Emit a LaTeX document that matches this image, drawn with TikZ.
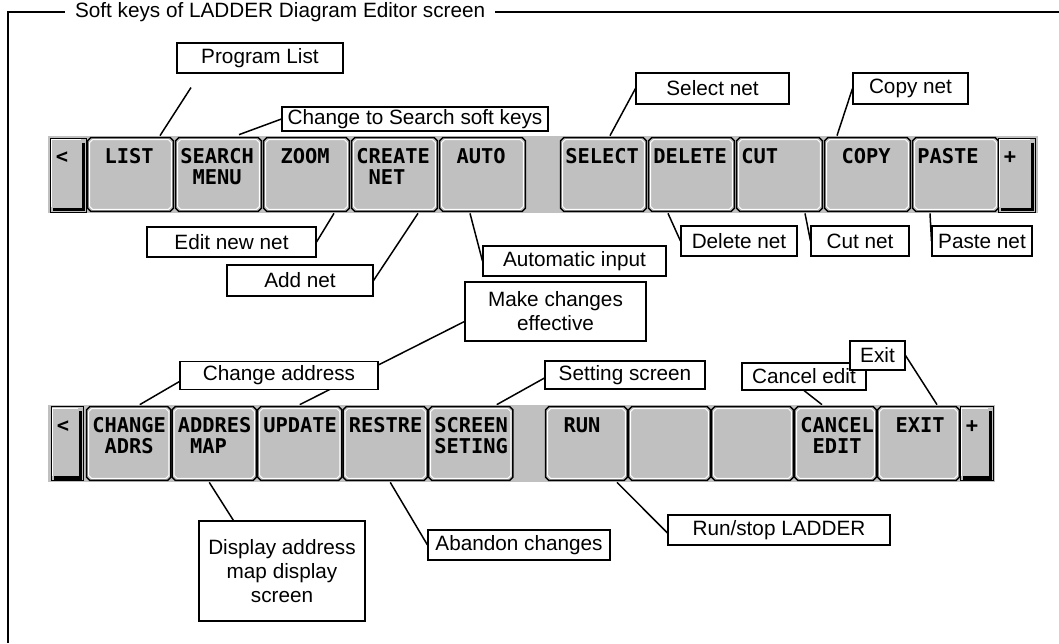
\documentclass[tikz,border=0pt]{standalone}
\usepackage{fontspec}
\setmainfont{Liberation Sans}
\newfontfamily\keyfont{DejaVu Sans Mono}
\usetikzlibrary{calc,backgrounds}
\definecolor{keygray}{RGB}{192,192,192}
\newcommand\pxu{0.02cm}
\newcommand\kp{\hphantom{M}}
\newcommand\chamf[2]{($(#1.north west)+(#2+3,#2)$) -- ($(#1.north east)+(-#2-3,#2)$) -- ($(#1.north east)+(-#2,#2+3)$) -- ($(#1.south east)+(-#2,-#2-3)$) -- ($(#1.south east)+(-#2-3,-#2)$) -- ($(#1.south west)+(#2+3,-#2)$) -- ($(#1.south west)+(#2,-#2-3)$) -- ($(#1.north west)+(#2,#2+3)$) -- cycle}

\begin{document}
\begin{tikzpicture}[x=0.02cm,y=-0.02cm,
  keybox/.style={rectangle,inner sep=0,minimum height=73*\pxu},
  keyedge/.style={draw=black,fill=keygray,line width=0.8pt},
  keyhi/.style={draw=white,line width=0.55pt},
  keytext/.style={anchor=base west,inner sep=0,font=\keyfont\bfseries\fontsize{11.6}{12}\selectfont},
  sidekey/.style={rectangle,draw=black,fill=keygray,line width=0.5pt,inner sep=0},
  notebox/.style={draw,fill=white,line width=0.6pt,inner sep=0,align=center,font=\fontsize{11.8}{13.6}\selectfont},
  lead/.style={line width=0.85pt},
  frame/.style={line width=0.85pt}]
\useasboundingbox (0,0) rectangle (1059,643);
\draw[frame] (1059,12) -| (8,643);
\node[fill=white,inner sep=0,inner xsep=5.5pt,minimum height=16pt,anchor=west,font=\fontsize{11.8}{14}\selectfont] (title) at (65,12) {Soft keys of LADDER Diagram Editor screen};

\fill[keygray] (48,136) rectangle (1038,213);
\fill[keygray] (48,405) rectangle (995,482);

\foreach \n/\x/\a/\b in {LIST/88/\kp LIST/{},SEARCH/176/SEARCH/\kp MENU,ZOOM/264/\kp ZOOM/{},CREATE/352/CREATE/\kp NET,AUTO/440/\kp AUTO/{},
  SELECT/561/SELECT/{},DELETE/649/DELETE/{},CUT/737/CUT/{},COPY/825/\kp COPY/{},PASTE/913/PASTE/{}}{
  \node[keybox,minimum width=85*\pxu] (k\n) at (\x+42.5,174.5) {};
  \draw[keyedge] \chamf{k\n}{0};
  \draw[keyhi] \chamf{k\n}{2};
  \node[keytext] (t\n) at (\x+4,163) {\a};
  \node[keytext] (u\n) at (\x+4,184) {\b};
}
\foreach \n/\x/\w/\a/\b in {CHANGE/87/83.5/CHANGE/\kp ADRS,ADDRES/172.5/83.5/ADDRES/\kp MAP,UPDATE/258/83.5/UPDATE/{},RESTRE/343.5/83.5/RESTRE/{},SCREEN/429/83.5/SCREEN/SETING,
  RUN/546/81/\kp RUN/{},BLANKA/629/81/{}/{},BLANKB/712/81/{}/{},CANCEL/795/81/CANCEL/\kp EDIT,EXIT/878/81/\kp EXIT/{}}{
  \node[keybox,minimum width=\w*\pxu] (k\n) at (\x+\w/2,443.5) {};
  \draw[keyedge] \chamf{k\n}{0};
  \draw[keyhi] \chamf{k\n}{2};
  \node[keytext] (t\n) at (\x+5,432) {\a};
  \node[keytext] (u\n) at (\x+5,453) {\b};
}

\foreach \n/\x/\y/\w/\s in {LT/68/175/36/<,RT/1016.5/175/37/+,LB/67/443.5/32/<,RB/976.5/443.5/33/+}{
  \node[sidekey,minimum width=\w*\pxu,minimum height=74*\pxu] (s\n) at (\x,\y) {};
  \draw[white,line width=0.55pt] ($(s\n.south west)+(2,-5)$) |- ($(s\n.north east)+(-5,2)$);
  \draw[line width=2.2pt] ($(s\n.north east)+(-3,5)$) |- ($(s\n.south west)+(3,-3)$);
  \node[keytext] (l\n) at ($(s\n.north west)+(6,26)$) {\s};
}

\node[notebox,minimum width=166*\pxu,minimum height=30*\pxu] (cList) at (260,58) {Program List};
\node[notebox,minimum width=266*\pxu,minimum height=24*\pxu] (cSearch) at (415,119) {Change to Search soft keys};
\node[notebox,minimum width=153*\pxu,minimum height=31*\pxu] (cSelect) at (712.5,88.5) {Select net};
\node[notebox,minimum width=115*\pxu,minimum height=31*\pxu] (cCopy) at (910.5,88.5) {Copy net};
\node[notebox,minimum width=169*\pxu,minimum height=30*\pxu] (cEdit) at (231.5,242) {Edit new net};
\node[notebox,minimum width=146*\pxu,minimum height=31*\pxu] (cAdd) at (300,280.5) {Add net};
\node[notebox,minimum width=183*\pxu,minimum height=30*\pxu] (cAuto) at (574.5,261) {Automatic input};
\node[notebox,minimum width=116*\pxu,minimum height=30*\pxu] (cDelete) at (739,241) {Delete net};
\node[notebox,minimum width=98*\pxu,minimum height=30*\pxu] (cCut) at (860,241) {Cut net};
\node[notebox,minimum width=100*\pxu,minimum height=30*\pxu] (cPaste) at (982,241) {Paste net};
\node[notebox,minimum width=181*\pxu,minimum height=59*\pxu] (cMake) at (555.5,311.5) {Make changes\\effective};
\node[notebox,minimum width=198*\pxu,minimum height=28*\pxu] (cAddr) at (279,375.5) {Change address};
\node[notebox,minimum width=160*\pxu,minimum height=28*\pxu] (cSet) at (625,375) {Setting screen};
\node[notebox,minimum width=124*\pxu,minimum height=27*\pxu] (cCancel) at (804,376.5) {Cancel edit};
\node[notebox,minimum width=55*\pxu,minimum height=29*\pxu] (cExit) at (877.5,355.5) {Exit};
\node[notebox,minimum width=166*\pxu,minimum height=100*\pxu] (cDisp) at (282,571) {Display address\\map display\\screen};
\node[notebox,minimum width=182*\pxu,minimum height=30*\pxu] (cAbandon) at (519,545) {Abandon changes};
\node[notebox,minimum width=222*\pxu,minimum height=30*\pxu] (cRun) at (779,530) {Run/stop LADDER};

\begin{pgfonlayer}{background}
\draw[lead] ($(kLIST.north)+(29.5,-2)$) -- ($(cList.south)+(-69,14)$);
\draw[lead] ($(kSEARCH.north)+(20.5,-3)$) -- (cSearch.west);
\draw[lead] ($(kSELECT.north)+(6.5,-2)$) -- (cSelect.west);
\draw[lead] ($(kCOPY.north)+(-30.5,-2)$) -- (cCopy.west);
\draw[lead] ($(kZOOM.south)+(27.5,2)$) -- (cEdit.east);
\draw[lead] ($(kCREATE.south)+(23.5,2)$) -- (cAdd.east);
\draw[lead] ($(kAUTO.south)+(-12.5,2)$) -- (cAuto.west);
\draw[lead] ($(kDELETE.south)+(-23.5,2)$) -- (cDelete.west);
\draw[lead] ($(kCUT.south)+(25.5,2)$) -- (cCut.west);
\draw[lead] ($(kPASTE.south)+(-25.5,2)$) -- (cPaste.west);
\draw[lead] ($(kCHANGE.north)+(11,-2)$) -- ($(cAddr.west)+(0,6)$);
\draw[lead] ($(kUPDATE.north)+(0,-2)$) -- ($(cMake.west)+(0,10)$);
\draw[lead] ($(kSCREEN.north)+(26,-2)$) -- ($(cSet.west)+(0,3)$);
\draw[lead] ($(kCANCEL.north)+(-13.5,-2)$) -- (cCancel.south);
\draw[lead] ($(kEXIT.north)+(18.5,-2)$) -- (cExit.east);
\draw[lead] ($(kADDRES.south)+(-5,2)$) -- ($(cDisp.north west)+(35,0)$);
\draw[lead] ($(kRESTRE.south)+(5,2)$) -- (cAbandon.west);
\draw[lead] ($(kRUN.south)+(30.5,2)$) -- ($(cRun.west)+(0,3)$);
\end{pgfonlayer}
\end{tikzpicture}
\end{document}
